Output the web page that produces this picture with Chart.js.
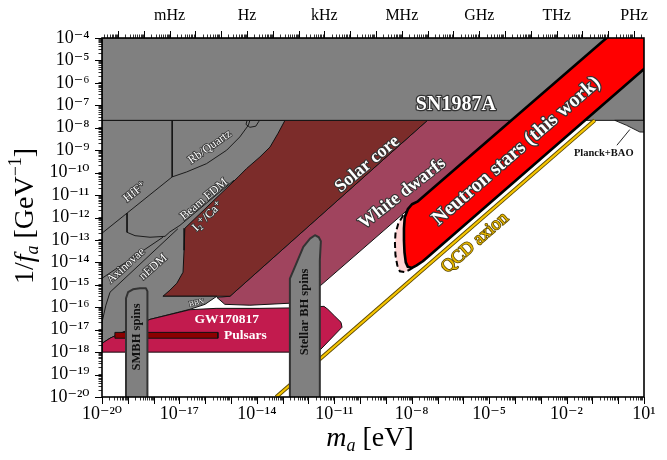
<!DOCTYPE html>
<html>
<head>
<meta charset="utf-8">
<script src="https://cdn.jsdelivr.net/npm/chart.js@4.4.1/dist/chart.umd.min.js"></script>
<style>
  html, body { margin: 0; background: #fff; }
  #wrap { width: 667px; height: 460px; }
</style>
</head>
<body>
<div id="wrap"><canvas id="axionChart" width="667" height="460"></canvas></div>
<script>
// all values are log10(m_a / eV) and log10(1/f_a / GeV^-1)
const sn1987a = [[-20, -4], [1, -4], [1, -7.67], [-20, -7.67]];
const whiteDwarfs = [[-7.39, -7.67], [-4.17, -7.67], [-12.28, -15.78], [-12.72, -15.82], [-14.27, -15.91], [-15.24, -15.87], [-15.55, -15.56], [-15.04, -15.51]];
const solarCore = [[-13.49, -7.67], [-7.39, -7.67], [-15.04, -15.51], [-17.64, -15.51], [-16.98, -11.23]];
const labBounds = [[-20, -7.67], [-12.91, -7.67], [-13.18, -8.25], [-13.49, -8.86], [-13.88, -9.30], [-14.40, -9.82], [-14.72, -10.19],
  [-16.79, -12.48], [-16.82, -13.46], [-16.86, -14.44], [-17.10, -14.93], [-17.37, -15.24], [-17.64, -15.51], [-15.55, -15.51],
  [-16.01, -15.87], [-16.59, -16.09], [-18.14, -16.54], [-19.11, -17.07], [-19.69, -17.38], [-20, -17.61]];
const gw170817 = [[-20, -18], [-11.63, -18], [-10.70, -16.89], [-10.74, -16.67], [-10.98, -16.40], [-11.25, -16.09], [-11.40, -15.96],
  [-12.72, -16.03], [-13.88, -16.05], [-15.58, -16.05], [-16.59, -16.11], [-18.14, -16.54], [-19.11, -17.07], [-19.69, -17.38], [-20, -17.61]];
const pulsars = [[-19.50, -17.12], [-15.51, -17.12], [-15.51, -17.38], [-19.50, -17.38]];
const smbhSpins = [[-19.07, -20.3], [-19.07, -15.60], [-18.99, -15.33], [-18.80, -15.20], [-18.53, -15.15], [-18.30, -15.15], [-18.24, -15.29], [-18.24, -20.3]];
const stellarBhSpins = [[-12.72, -20.3], [-12.72, -14.72], [-12.53, -14.21], [-12.20, -13.31], [-11.94, -12.94], [-11.75, -12.79],
  [-11.60, -12.88], [-11.52, -13.06], [-11.56, -13.91], [-11.56, -20.3]];
const planckBao = [[-0.13, -7.67], [0.32, -7.89], [0.84, -8.19], [1.3, -8.20], [1.3, -7.67]];
const nsProjected = [[-8.07, -11.60], [-8.33, -11.90], [-8.52, -12.27], [-8.63, -12.72], [-8.65, -13.16], [-8.63, -13.68], [-8.56, -14.13],
  [-8.46, -14.40], [-8.27, -14.43], [-8.07, -14.32], [-7.80, -14.10], [-7.80, -11.60]];
const neutronStars = [[0.05, -3.5], [1.5, -3.5], [1.5, -4.88], [-7.30, -13.68], [-7.57, -13.95], [-7.81, -14.13], [-7.99, -14.25],
  [-8.15, -14.20], [-8.23, -14.00], [-8.28, -13.55], [-8.30, -13.02], [-8.30, -12.48], [-8.27, -11.99], [-8.15, -11.63],
  [-7.99, -11.41], [-7.76, -11.28]];
const qcdAxion = [[-13.25, -20], [-0.91, -7.67]];

// boundary lines inside the grey laboratory region
const rbQuartzEdge = [[-17.28, -7.67], [-17.28, -10.19], [-16.72, -9.97], [-15.95, -9.60], [-15.17, -9.00], [-14.66, -8.41], [-14.33, -7.89], [-14.27, -7.67]];
const rbBump = [[-14.38, -7.67], [-14.42, -7.85], [-14.27, -7.98], [-14.04, -7.93], [-13.92, -7.71], [-13.92, -7.67]];
const hffEdge = [[-20, -12.70], [-17.28, -10.19]];
const hffLowerEdge = [[-19.03, -11.81], [-19.03, -12.66], [-18.72, -12.81], [-18.14, -12.88], [-17.56, -12.84], [-17.37, -12.64], [-16.98, -12.35], [-14.89, -10.34]];
const axinovaeUpper = [[-20, -14.71], [-17.64, -12.88]];
const axinovaeLower = [[-19.69, -15.33], [-17.06, -12.50]];
const axinovaeEdge = [[-19.69, -15.33], [-19.85, -15.91], [-20, -16.67]];
const planckPointer = [[0.45, -8.08], [-0.05, -8.78]];

// ticks
const massRange = [-20, 1];
const couplingRange = [-20, -4];
const EV_TO_HZ = 2.418e14;
const freqUnits = ['mHz', 'Hz', 'kHz', 'MHz', 'GHz', 'THz', 'PHz'];
const freqExps = [-3, 0, 3, 6, 9, 12, 15];

const SERIF = '"Liberation Serif", "DejaVu Serif", serif';
const SUP = { '-': '⁻', '0': '⁰', '1': '¹', '2': '²', '3': '³', '4': '⁴', '5': '⁵', '6': '⁶', '7': '⁷', '8': '⁸', '9': '⁹' };
const sup = n => String(n).split('').map(c => SUP[c]).join('');
const isMajor = v => Math.abs(Math.log10(v) - Math.round(Math.log10(v))) < 1e-6;

function logTicks(min, max) {
  const out = [];
  for (let e = Math.floor(Math.log10(min)); e <= Math.ceil(Math.log10(max)); e++) {
    for (let k = 1; k <= 9; k++) {
      const v = Number((k * Math.pow(10, e)).toPrecision(6));
      if (v >= min * 0.999999 && v <= max * 1.000001) out.push({ value: v });
    }
  }
  return out;
}

const pts = (arr, close) => {
  const p = arr.map(([m, f]) => ({ x: Math.pow(10, m), y: Math.pow(10, f) }));
  if (close) p.push(p[0]);
  return p;
};
const area = (data, fill, line, width, extra) => Object.assign({
  data: pts(data, true), areaColor: fill, borderColor: line, borderWidth: width
}, extra || {});
const edge = (data, line, width, extra) => Object.assign({
  data: pts(data, false), borderColor: line, borderWidth: width
}, extra || {});

// bottom to top
const layers = [
  area(whiteDwarfs, '#a0445e', '#111', 1),
  area(solarCore, '#7c2c2a', '#111', 1),
  area(labBounds, '#808080', '#111', 1),
  edge(rbQuartzEdge, '#111', 0.9),
  edge(rbBump, '#111', 0.9),
  edge(hffEdge, '#111', 0.9),
  edge(hffLowerEdge, '#111', 0.9),
  edge(axinovaeUpper, '#111', 0.9),
  edge(axinovaeLower, '#111', 0.9),
  edge(axinovaeEdge, '#111', 0.9),
  area(sn1987a, '#808080', '#111', 1),
  area(planckBao, '#808080', '#111', 0.9),
  edge(planckPointer, '#111', 0.9),
  area(gw170817, '#c21b4e', '#111', 1),
  area(pulsars, '#8b0000', '#111', 1),
  edge(qcdAxion, '#5c4800', 4),
  edge(qcdAxion, '#f5c400', 2.2),
  area(smbhSpins, '#808080', '#333', 2, { borderJoinStyle: 'round' }),
  area(stellarBhSpins, '#808080', '#333', 2, { borderJoinStyle: 'round' }),
  area(nsProjected, '#ffd5d5', '#000', 2, { borderDash: [6, 3.5] }),
  area(neutronStars, '#ff0000', '#000', 2.6, { borderJoinStyle: 'round' })
];
layers.forEach((d, i) => Object.assign(d, {
  order: layers.length - i, showLine: true, fill: false, tension: 0, pointRadius: 0, pointHitRadius: 0
}));

const regionLabels = [
  { text: 'SN1987A', m: -6.29, f: -7.00, rot: 0, size: 20, weight: 'bold', color: '#fff', stroke: '#333', lw: 2.5 },
  { text: 'Solar core', m: -9.72, f: -9.63, rot: -40, size: 18, weight: 'bold', color: '#fff', stroke: '#333', lw: 2.2 },
  { text: 'White dwarfs', m: -8.36, f: -10.93, rot: -38, size: 18, weight: 'bold', color: '#fff', stroke: '#333', lw: 2.2 },
  { text: 'Neutron stars (this work)', m: -3.94, f: -9.04, rot: -41, size: 20, weight: 'bold', color: '#fff', stroke: '#333', lw: 2.5 },
  { text: 'QCD axion', m: -5.55, f: -13.13, rot: -41, size: 18, weight: 'normal', color: '#e8b800', stroke: '#5c4800', lw: 1.6 },
  { text: 'GW170817', m: -15.17, f: -16.54, rot: 0, size: 13.5, weight: 'bold', color: '#fff' },
  { text: 'Pulsars', m: -15.27, f: -17.25, rot: 0, size: 13.5, weight: 'bold', color: '#fff', align: 'left' },
  { text: 'SMBH spins', m: -18.64, f: -17.32, rot: -90, size: 12.5, weight: 'bold', color: '#111' },
  { text: 'Stellar BH spins', m: -12.14, f: -16.21, rot: -90, size: 12.5, weight: 'bold', color: '#111' },
  { text: 'Planck+BAO', m: -0.56, f: -9.15, rot: 0, size: 10.5, weight: 'bold', color: '#111' },
  { text: 'HfF⁺', m: -18.72, f: -10.86, rot: -39, size: 12, weight: 'normal', color: '#fff', stroke: '#333', lw: 1.7 },
  { text: 'Rb/Quartz', m: -15.82, f: -8.86, rot: -35, size: 12, weight: 'normal', color: '#fff', stroke: '#333', lw: 1.7 },
  { text: 'Beam EDM', m: -16.05, f: -11.19, rot: -40, size: 12, weight: 'normal', color: '#fff', stroke: '#333', lw: 1.7 },
  { text: 'I₂⁺/Ca⁺', m: -15.91, f: -11.95, rot: -45, size: 12, weight: 'normal', color: '#fff', stroke: '#333', lw: 1.7 },
  { text: 'Axinovae', m: -19.07, f: -14.15, rot: -42, size: 12, weight: 'normal', color: '#fff', stroke: '#333', lw: 1.7 },
  { text: 'nEDM', m: -18.01, f: -14.21, rot: -42, size: 12, weight: 'normal', color: '#fff', stroke: '#333', lw: 1.7 },
  { text: 'BBN', m: -16.33, f: -15.81, rot: -12, size: 7.5, weight: 'normal', color: '#fff', stroke: '#333', lw: 1.2 }
];

const areaFill = {
  id: 'areaFill',
  beforeDatasetDraw(chart, args) {
    const ds = chart.data.datasets[args.index];
    if (!ds.areaColor) return;
    const { ctx, chartArea: a } = chart;
    ctx.save();
    ctx.beginPath();
    ctx.rect(a.left, a.top, a.right - a.left, a.bottom - a.top);
    ctx.clip();
    ctx.beginPath();
    args.meta.data.forEach((p, i) => i ? ctx.lineTo(p.x, p.y) : ctx.moveTo(p.x, p.y));
    ctx.closePath();
    ctx.fillStyle = ds.areaColor;
    ctx.fill();
    ctx.restore();
  }
};

const annotations = {
  id: 'annotations',
  afterDatasetsDraw(chart) {
    const { ctx } = chart;
    const sx = chart.scales.x, sy = chart.scales.y;
    regionLabels.forEach(l => {
      ctx.save();
      ctx.translate(sx.getPixelForValue(Math.pow(10, l.m)), sy.getPixelForValue(Math.pow(10, l.f)));
      ctx.rotate(l.rot * Math.PI / 180);
      ctx.font = `${l.weight} ${l.size}px ${SERIF}`;
      ctx.textAlign = l.align || 'center';
      ctx.textBaseline = 'middle';
      if (l.stroke) {
        ctx.lineWidth = l.lw;
        ctx.lineJoin = 'round';
        ctx.strokeStyle = l.stroke;
        ctx.strokeText(l.text, 0, 0);
      }
      ctx.fillStyle = l.color;
      ctx.fillText(l.text, 0, 0);
      ctx.restore();
    });
  }
};

// frame, longer decade ticks, axis titles
const frame = {
  id: 'frame',
  afterDraw(chart) {
    const { ctx, chartArea: a } = chart;
    ctx.save();
    ctx.strokeStyle = '#000';
    ctx.lineWidth = 1;
    ['x', 'y', 'x2'].forEach(id => {
      const s = chart.scales[id];
      s.ticks.forEach(t => {
        if (!isMajor(t.value)) return;
        const p = Math.round(s.getPixelForValue(t.value)) + 0.5;
        ctx.beginPath();
        if (id === 'y') { ctx.moveTo(a.left, p); ctx.lineTo(a.left - 7, p); }
        else if (id === 'x') { ctx.moveTo(p, a.bottom); ctx.lineTo(p, a.bottom + 7); }
        else { ctx.moveTo(p, a.top); ctx.lineTo(p, a.top - 7); }
        ctx.stroke();
      });
    });
    ctx.lineWidth = 1.6;
    ctx.strokeRect(a.left, a.top, a.right - a.left, a.bottom - a.top);

    const drawPieces = (pieces, x, y) => {
      pieces.forEach(p => {
        ctx.font = `${p.italic ? 'italic ' : ''}${p.size}px ${SERIF}`;
        ctx.fillText(p.t, x, y + (p.dy || 0));
        x += ctx.measureText(p.t).width;
      });
    };
    const width = pieces => pieces.reduce((w, p) => {
      ctx.font = `${p.italic ? 'italic ' : ''}${p.size}px ${SERIF}`;
      return w + ctx.measureText(p.t).width;
    }, 0);
    ctx.fillStyle = '#000';
    ctx.textBaseline = 'alphabetic';
    ctx.textAlign = 'left';
    const xTitle = [{ t: 'm', italic: true, size: 28 }, { t: 'a', italic: true, size: 18, dy: 5 }, { t: ' [eV]', size: 28 }];
    drawPieces(xTitle, 370 - width(xTitle) / 2, 446);
    const yTitle = [{ t: '1/', size: 28 }, { t: 'f', italic: true, size: 28 }, { t: 'a', italic: true, size: 18, dy: 5 },
      { t: ' [GeV', size: 28 }, { t: '−1', size: 18, dy: -12 }, { t: ']', size: 28 }];
    ctx.translate(33, 216);
    ctx.rotate(-Math.PI / 2);
    drawPieces(yTitle, -width(yTitle) / 2, 0);
    ctx.restore();
  }
};

const tickGrid = { display: true, drawOnChartArea: false, drawTicks: true, tickLength: 3.5, color: '#000', lineWidth: 0.8 };

new Chart(document.getElementById('axionChart'), {
  type: 'scatter',
  data: { datasets: layers },
  options: {
    responsive: false,
    devicePixelRatio: 1,
    animation: false,
    layout: { padding: { left: 0, right: 23, top: 0, bottom: 0 } },
    plugins: { legend: { display: false }, tooltip: { enabled: false } },
    scales: {
      x: {
        type: 'logarithmic', position: 'bottom',
        min: Math.pow(10, massRange[0]), max: Math.pow(10, massRange[1]),
        afterBuildTicks: s => { s.ticks = logTicks(s.min, s.max); },
        afterFit: s => { s.height = 63; },
        grid: tickGrid, border: { display: false },
        ticks: {
          autoSkip: false, maxRotation: 0, minRotation: 0, padding: 3, color: '#000',
          font: { family: SERIF, size: 18 },
          callback: v => {
            const e = Math.round(Math.log10(v));
            return isMajor(v) && (e - massRange[0]) % 3 === 0 ? '10' + sup(e) : '';
          }
        }
      },
      x2: {
        type: 'logarithmic', position: 'top',
        min: Math.pow(10, massRange[0]) * EV_TO_HZ, max: Math.pow(10, massRange[1]) * EV_TO_HZ,
        afterBuildTicks: s => { s.ticks = logTicks(s.min, s.max); },
        afterFit: s => { s.height = 38; },
        grid: tickGrid, border: { display: false },
        ticks: {
          autoSkip: false, maxRotation: 0, minRotation: 0, padding: 9, color: '#000',
          font: { family: SERIF, size: 16 },
          callback: v => {
            const i = freqExps.indexOf(Math.round(Math.log10(v)));
            return isMajor(v) && i >= 0 ? freqUnits[i] : '';
          }
        }
      },
      y: {
        type: 'logarithmic', position: 'left',
        min: Math.pow(10, couplingRange[0]), max: Math.pow(10, couplingRange[1]),
        afterBuildTicks: s => { s.ticks = logTicks(s.min, s.max); },
        afterFit: s => { s.width = 102; },
        grid: tickGrid, border: { display: false },
        ticks: {
          autoSkip: false, padding: 9, color: '#000',
          font: { family: SERIF, size: 18 },
          callback: v => isMajor(v) ? '10' + sup(Math.round(Math.log10(v))) : ''
        }
      }
    }
  },
  plugins: [areaFill, annotations, frame]
});
</script>
</body>
</html>
